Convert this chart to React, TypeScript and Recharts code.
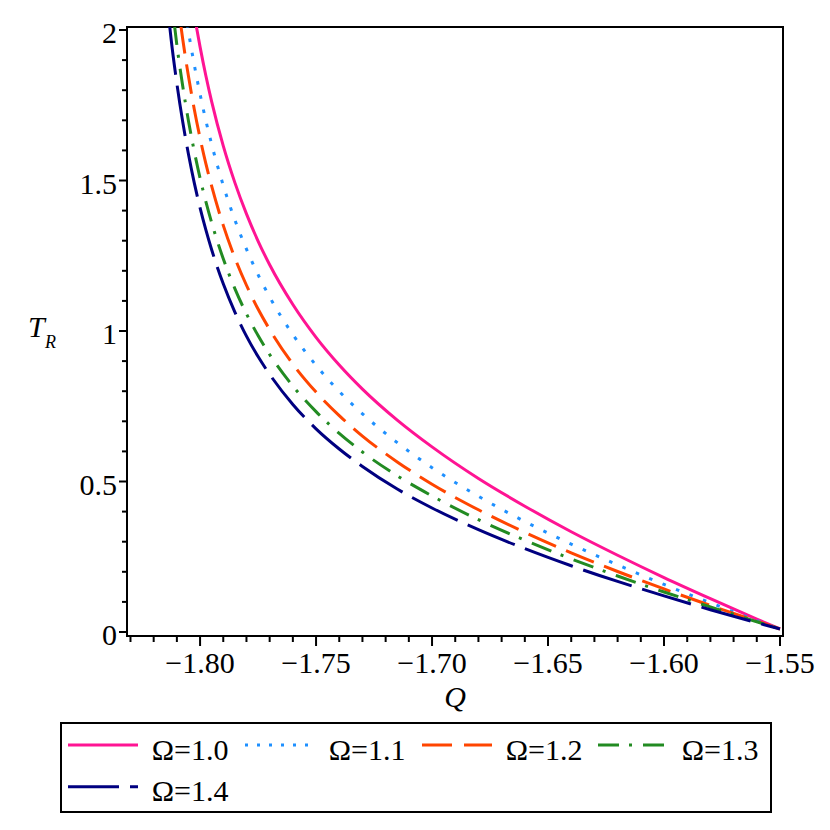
import React from 'react';
import { LineChart, Line, XAxis, YAxis, Legend, ReferenceArea } from 'recharts';

const FONT = "'Liberation Serif', 'Times New Roman', 'DejaVu Serif', serif";
const textStyle = { fontFamily: FONT };

// Ω = 1.0
const qOmega10 = [-1.8018, -1.8000, -1.7975, -1.7950, -1.7900, -1.7850, -1.7800, -1.7750, -1.7700, -1.7600, -1.7500, -1.7400, -1.7300, -1.7150, -1.7000, -1.6800, -1.6600, -1.6400, -1.6200, -1.6000, -1.5800, -1.5600, -1.5500];
const tOmega10 = [2.020, 1.944, 1.848, 1.762, 1.615, 1.493, 1.389, 1.299, 1.220, 1.088, 0.979, 0.887, 0.807, 0.704, 0.615, 0.510, 0.418, 0.333, 0.255, 0.181, 0.111, 0.043, 0.010];
// Ω = 1.1
const qOmega11 = [-1.8055, -1.8050, -1.8025, -1.8000, -1.7975, -1.7950, -1.7900, -1.7850, -1.7800, -1.7750, -1.7700, -1.7600, -1.7500, -1.7400, -1.7300, -1.7150, -1.7000, -1.6800, -1.6600, -1.6400, -1.6200, -1.6000, -1.5800, -1.5600, -1.5500];
const tOmega11 = [2.020, 1.995, 1.885, 1.787, 1.699, 1.620, 1.484, 1.369, 1.272, 1.187, 1.113, 0.988, 0.886, 0.799, 0.725, 0.629, 0.546, 0.451, 0.367, 0.292, 0.223, 0.158, 0.097, 0.038, 0.010];
// Ω = 1.2
const qOmega12 = [-1.8084, -1.8075, -1.8050, -1.8025, -1.8000, -1.7975, -1.7950, -1.7900, -1.7850, -1.7800, -1.7750, -1.7700, -1.7600, -1.7500, -1.7400, -1.7300, -1.7150, -1.7000, -1.6800, -1.6600, -1.6400, -1.6200, -1.6000, -1.5800, -1.5600, -1.5500];
const tOmega12 = [2.021, 1.971, 1.846, 1.737, 1.641, 1.556, 1.481, 1.351, 1.243, 1.152, 1.073, 1.005, 0.890, 0.797, 0.719, 0.651, 0.565, 0.491, 0.406, 0.331, 0.263, 0.201, 0.143, 0.088, 0.036, 0.010];
// Ω = 1.3
const qOmega13 = [-1.8111, -1.8100, -1.8075, -1.8050, -1.8025, -1.8000, -1.7975, -1.7950, -1.7900, -1.7850, -1.7800, -1.7750, -1.7700, -1.7600, -1.7500, -1.7400, -1.7300, -1.7150, -1.7000, -1.6800, -1.6600, -1.6400, -1.6200, -1.6000, -1.5800, -1.5600, -1.5500];
const tOmega13 = [2.020, 1.950, 1.815, 1.698, 1.597, 1.508, 1.430, 1.360, 1.240, 1.141, 1.057, 0.985, 0.922, 0.817, 0.732, 0.660, 0.598, 0.519, 0.452, 0.373, 0.305, 0.243, 0.186, 0.133, 0.083, 0.034, 0.011];
// Ω = 1.4
const qOmega14 = [-1.8132, -1.8125, -1.8100, -1.8075, -1.8050, -1.8025, -1.8000, -1.7975, -1.7950, -1.7900, -1.7850, -1.7800, -1.7750, -1.7700, -1.7600, -1.7500, -1.7400, -1.7300, -1.7150, -1.7000, -1.6800, -1.6600, -1.6400, -1.6200, -1.6000, -1.5800, -1.5600, -1.5500];
const tOmega14 = [2.020, 1.971, 1.822, 1.696, 1.587, 1.492, 1.409, 1.336, 1.270, 1.157, 1.063, 0.983, 0.915, 0.856, 0.756, 0.675, 0.608, 0.550, 0.475, 0.412, 0.340, 0.277, 0.220, 0.168, 0.120, 0.074, 0.031, 0.010];

const seriesNames = ['Ω=1.0', 'Ω=1.1', 'Ω=1.2', 'Ω=1.3', 'Ω=1.4'];
const seriesColors = ['#FF1493', '#1E90FF', '#FF4500', '#228B22', '#000080'];
const seriesDashes = [undefined, '3.5 11', '30 11', '21 10 3 11', '51 11'];
const legendDashes = [undefined, '3 9', '30 12', '21 10 3 11', '51 11'];

const xTicks = [-1.83, -1.82, -1.81, -1.80, -1.79, -1.78, -1.77, -1.76, -1.75, -1.74, -1.73, -1.72, -1.71, -1.70, -1.69, -1.68, -1.67, -1.66, -1.65, -1.64, -1.63, -1.62, -1.61, -1.60, -1.59, -1.58, -1.57, -1.56, -1.55];
const xMajorTicks = [-1.80, -1.75, -1.70, -1.65, -1.60, -1.55];
const xTickLabels = ['−1.80', '−1.75', '−1.70', '−1.65', '−1.60', '−1.55'];
const yTicks = [0, 0.1, 0.2, 0.3, 0.4, 0.5, 0.6, 0.7, 0.8, 0.9, 1.0, 1.1, 1.2, 1.3, 1.4, 1.5, 1.6, 1.7, 1.8, 1.9, 2.0];
const yMajorTicks = [0, 0.5, 1, 1.5, 2];
const yTickLabels = ['0', '0.5', '1', '1.5', '2'];

const xDomain = [-1.8315, -1.5487];
const yDomain = [-0.0133, 2.01];

const toRows = (q: number[], t: number[]) => q.map((v, i) => ({ Q: v, T: t[i] }));
const seriesData = [
  toRows(qOmega10, tOmega10),
  toRows(qOmega11, tOmega11),
  toRows(qOmega12, tOmega12),
  toRows(qOmega13, tOmega13),
  toRows(qOmega14, tOmega14),
];

const XTick = (props: any) => {
  const { x, y, payload } = props;
  const idx = xMajorTicks.findIndex((m) => Math.abs(m - payload.value) < 1e-6);
  const major = idx >= 0;
  return (
    <g>
      <line x1={x} x2={x} y1={y} y2={y + (major ? 10 : 6)} stroke="#000" strokeWidth={2} />
      {major && (
        <text x={x} y={y + 37} textAnchor="middle" style={textStyle} fontSize={30} fill="#000">
          {xTickLabels[idx]}
        </text>
      )}
    </g>
  );
};

const YTick = (props: any) => {
  const { x, y, payload } = props;
  const idx = yMajorTicks.findIndex((m) => Math.abs(m - payload.value) < 1e-6);
  const major = idx >= 0;
  return (
    <g>
      <line x1={x - (major ? 8 : 5)} x2={x} y1={y} y2={y} stroke="#000" strokeWidth={2} />
      {major && (
        <text x={x - 10} y={y + 13} textAnchor="end" style={textStyle} fontSize={30} fill="#000">
          {yTickLabels[idx]}
        </text>
      )}
    </g>
  );
};

const XLabel = (props: any) => {
  const vb = props.viewBox || { x: 127, y: 636, width: 656, height: 60 };
  return (
    <text x={vb.x + vb.width / 2} y={vb.y + 71} textAnchor="middle" style={textStyle} fontStyle="italic" fontSize={30} fill="#000">
      Q
    </text>
  );
};

const YLabel = (props: any) => {
  const vb = props.viewBox || { x: 0, y: 27, width: 127, height: 609 };
  const cy = vb.y + vb.height / 2;
  return (
    <g>
      <text x={vb.x + 28} y={cy + 5.5} style={textStyle} fontStyle="italic" fontSize={30} fill="#000">T</text>
      <text x={vb.x + 45} y={cy + 16.5} style={textStyle} fontStyle="italic" fontSize={18} fill="#000">R</text>
    </g>
  );
};

const LegendBox = () => {
  const colX = [8, 185, 362, 538];
  return (
    <svg width={712} height={91} style={{ display: 'block' }}>
      <rect x={1} y={1} width={710} height={89} fill="#fff" stroke="#000" strokeWidth={2} />
      {seriesNames.map((name, i) => {
        const row = Math.floor(i / 4);
        const sx = colX[i % 4];
        const sy = row === 0 ? 23 : 64.7;
        return (
          <g key={name}>
            <line x1={sx} x2={sx + 70} y1={sy} y2={sy} stroke={seriesColors[i]} strokeWidth={3} strokeDasharray={legendDashes[i]} />
            <text x={sx + 83.7} y={sy + 14.5} style={textStyle} fontSize={30} fill="#000">{name}</text>
          </g>
        );
      })}
    </svg>
  );
};

export default function App() {
  return (
    <div style={{ position: 'absolute', left: 0, top: 0, width: 830, height: 830, background: '#fff' }}>
      <LineChart width={830} height={830} margin={{ top: 27, right: 47, bottom: 134, left: 0 }}>
        <XAxis
          dataKey="Q"
          type="number"
          domain={xDomain}
          allowDataOverflow
          ticks={xTicks}
          interval={0}
          tickSize={0}
          tickMargin={0}
          tickLine={false}
          tick={<XTick />}
          axisLine={{ stroke: '#000', strokeWidth: 2 }}
          height={60}
          label={(p: any) => <XLabel {...p} />}
        />
        <YAxis
          dataKey="T"
          type="number"
          domain={yDomain}
          allowDataOverflow
          ticks={yTicks}
          interval={0}
          tickSize={0}
          tickMargin={0}
          tickLine={false}
          tick={<YTick />}
          axisLine={{ stroke: '#000', strokeWidth: 2 }}
          width={127}
          label={(p: any) => <YLabel {...p} />}
        />
        <ReferenceArea
          x1={xDomain[0]}
          x2={xDomain[1]}
          y1={yDomain[0]}
          y2={yDomain[1]}
          fill="none"
          fillOpacity={0}
          stroke="#000"
          strokeWidth={2}
          ifOverflow="visible"
        />
        {seriesData.map((d, i) => (
          <Line
            key={seriesNames[i]}
            data={d}
            dataKey="T"
            name={seriesNames[i]}
            type="monotone"
            stroke={seriesColors[i]}
            strokeWidth={3}
            strokeDasharray={seriesDashes[i]}
            dot={false}
            activeDot={false}
            isAnimationActive={false}
          />
        ))}
        <Legend
          layout="horizontal"
          verticalAlign="middle"
          align="center"
          content={() => <LegendBox />}
          wrapperStyle={{ left: 60, top: 722, width: 712, height: 91 }}
        />
      </LineChart>
    </div>
  );
}
